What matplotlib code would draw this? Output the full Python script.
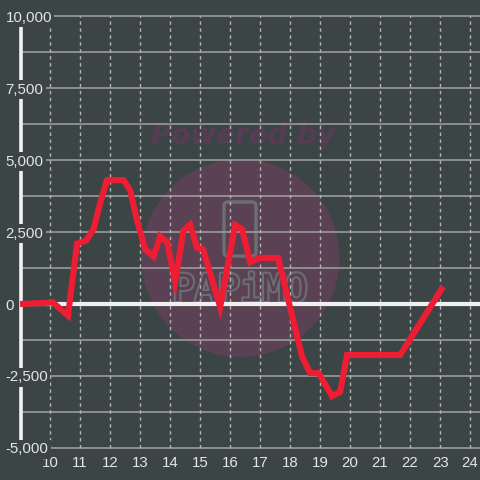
import matplotlib
matplotlib.use("Agg")
import matplotlib.pyplot as plt
from matplotlib.patches import Circle, FancyBboxPatch
import matplotlib.patheffects as pe

# ---- data ----
hours = [9, 10.1, 10.6, 10.9, 11.2, 11.45, 11.67, 11.9, 12.45, 12.67, 12.9, 13.17,
         13.45, 13.67, 13.9, 14.17, 14.45, 14.67, 14.9, 15.1, 15.67, 16.17, 16.4,
         16.67, 17.0, 17.6, 18.4, 18.67, 18.95, 19.4, 19.67, 19.9, 20.05, 21.67, 23.1]
values = [0, 50, -400, 2100, 2200, 2600, 3500, 4300, 4300, 3950, 2900, 1900,
          1650, 2350, 2150, 800, 2550, 2750, 1950, 1900, -100, 2750, 2600,
          1450, 1600, 1600, -1830, -2400, -2400, -3200, -3050, -1770, -1770, -1770, 600]
x_ticks = list(range(10, 25))
y_ticks = [-5000, -2500, 0, 2500, 5000, 7500, 10000]
y_grid = [-5000, -3750, -2500, -1250, 0, 1250, 2500, 3750, 5000, 6250, 7500, 8750, 10000]

BG = "#3c4545"
RED = "#ee1d33"
GRID = "#9b9b9b"
TXT = "#e4e4e4"

plt.rcParams['font.family'] = ['Liberation Sans', 'DejaVu Sans']

fig = plt.figure(figsize=(4.8, 4.8), dpi=100, facecolor=BG)
ax = fig.add_axes([20 / 480, 28 / 480, 460 / 480, 444 / 480])
ax.set_facecolor(BG)

# watermark
circ = Circle((240.5 / 480, 1 - 258 / 480), 99 / 480, transform=fig.transFigure,
              facecolor="#5a4153", edgecolor="none", zorder=0.5)
ax.add_artist(circ)
ax.text(243 / 480, 1 - 136 / 480, "Powered by", transform=fig.transFigure,
        ha="center", va="center", fontsize=20, fontweight="bold", style="italic",
        family="DejaVu Sans", color="#583b54", zorder=0.6)
ax.text(240 / 480, 1 - 291 / 480, "PAPiMO", transform=fig.transFigure,
        ha="center", va="center", fontsize=27, family="DejaVu Sans Mono",
        color="#5a4153", zorder=0.7,
        path_effects=[pe.withStroke(linewidth=3, foreground="#6b6e72")])
phone = FancyBboxPatch((224 / 480, 1 - 256 / 480), 32 / 480, 54 / 480,
                       boxstyle="round,pad=0,rounding_size=0.008",
                       transform=fig.transFigure, facecolor="none",
                       edgecolor="#6b6e72", lw=2.5, zorder=0.7)
ax.add_artist(phone)

# grid
for gy in y_grid:
    ax.axhline(gy, color=GRID, lw=1.2, zorder=1)
ax.vlines(x_ticks, -5000, 10000, colors="#b4b4b4", linestyles=(0, (2.5, 2.5)),
          lw=1.0, zorder=1)
ax.axhline(0, color="#f0f0f0", lw=3, zorder=2.6)

# series
ax.plot(hours, values, color=RED, lw=4.4, solid_joinstyle="miter",
        solid_capstyle="butt", zorder=3)

ax.set_xlim(9, 24.33)
ax.set_ylim(-5139, 10278)

for s in ["top", "right", "bottom"]:
    ax.spines[s].set_visible(False)
ax.spines["left"].set_color("#f2f2f2")
ax.spines["left"].set_linewidth(2.6)
ax.spines["left"].set_bounds(-5000, 10000)
ax.spines["left"].set_position(("data", 9.03))

ax.set_xticks(x_ticks)
ax.set_xticklabels([str(t) for t in x_ticks])
ax.set_yticks(y_ticks)
ax.set_yticklabels([f"{t:,}" for t in y_ticks])
ax.tick_params(axis="x", length=0, pad=3, labelsize=10.8, labelcolor=TXT)
ax.tick_params(axis="y", length=0, pad=11, labelsize=10.8, labelcolor=TXT)
for lab in ax.get_yticklabels():
    lab.set_horizontalalignment("left")
    lab.set_bbox(dict(facecolor=BG, edgecolor="none", pad=1.5))
ax.yaxis.set_zorder(4)

fig.savefig("out.png", dpi=100, facecolor=BG)
